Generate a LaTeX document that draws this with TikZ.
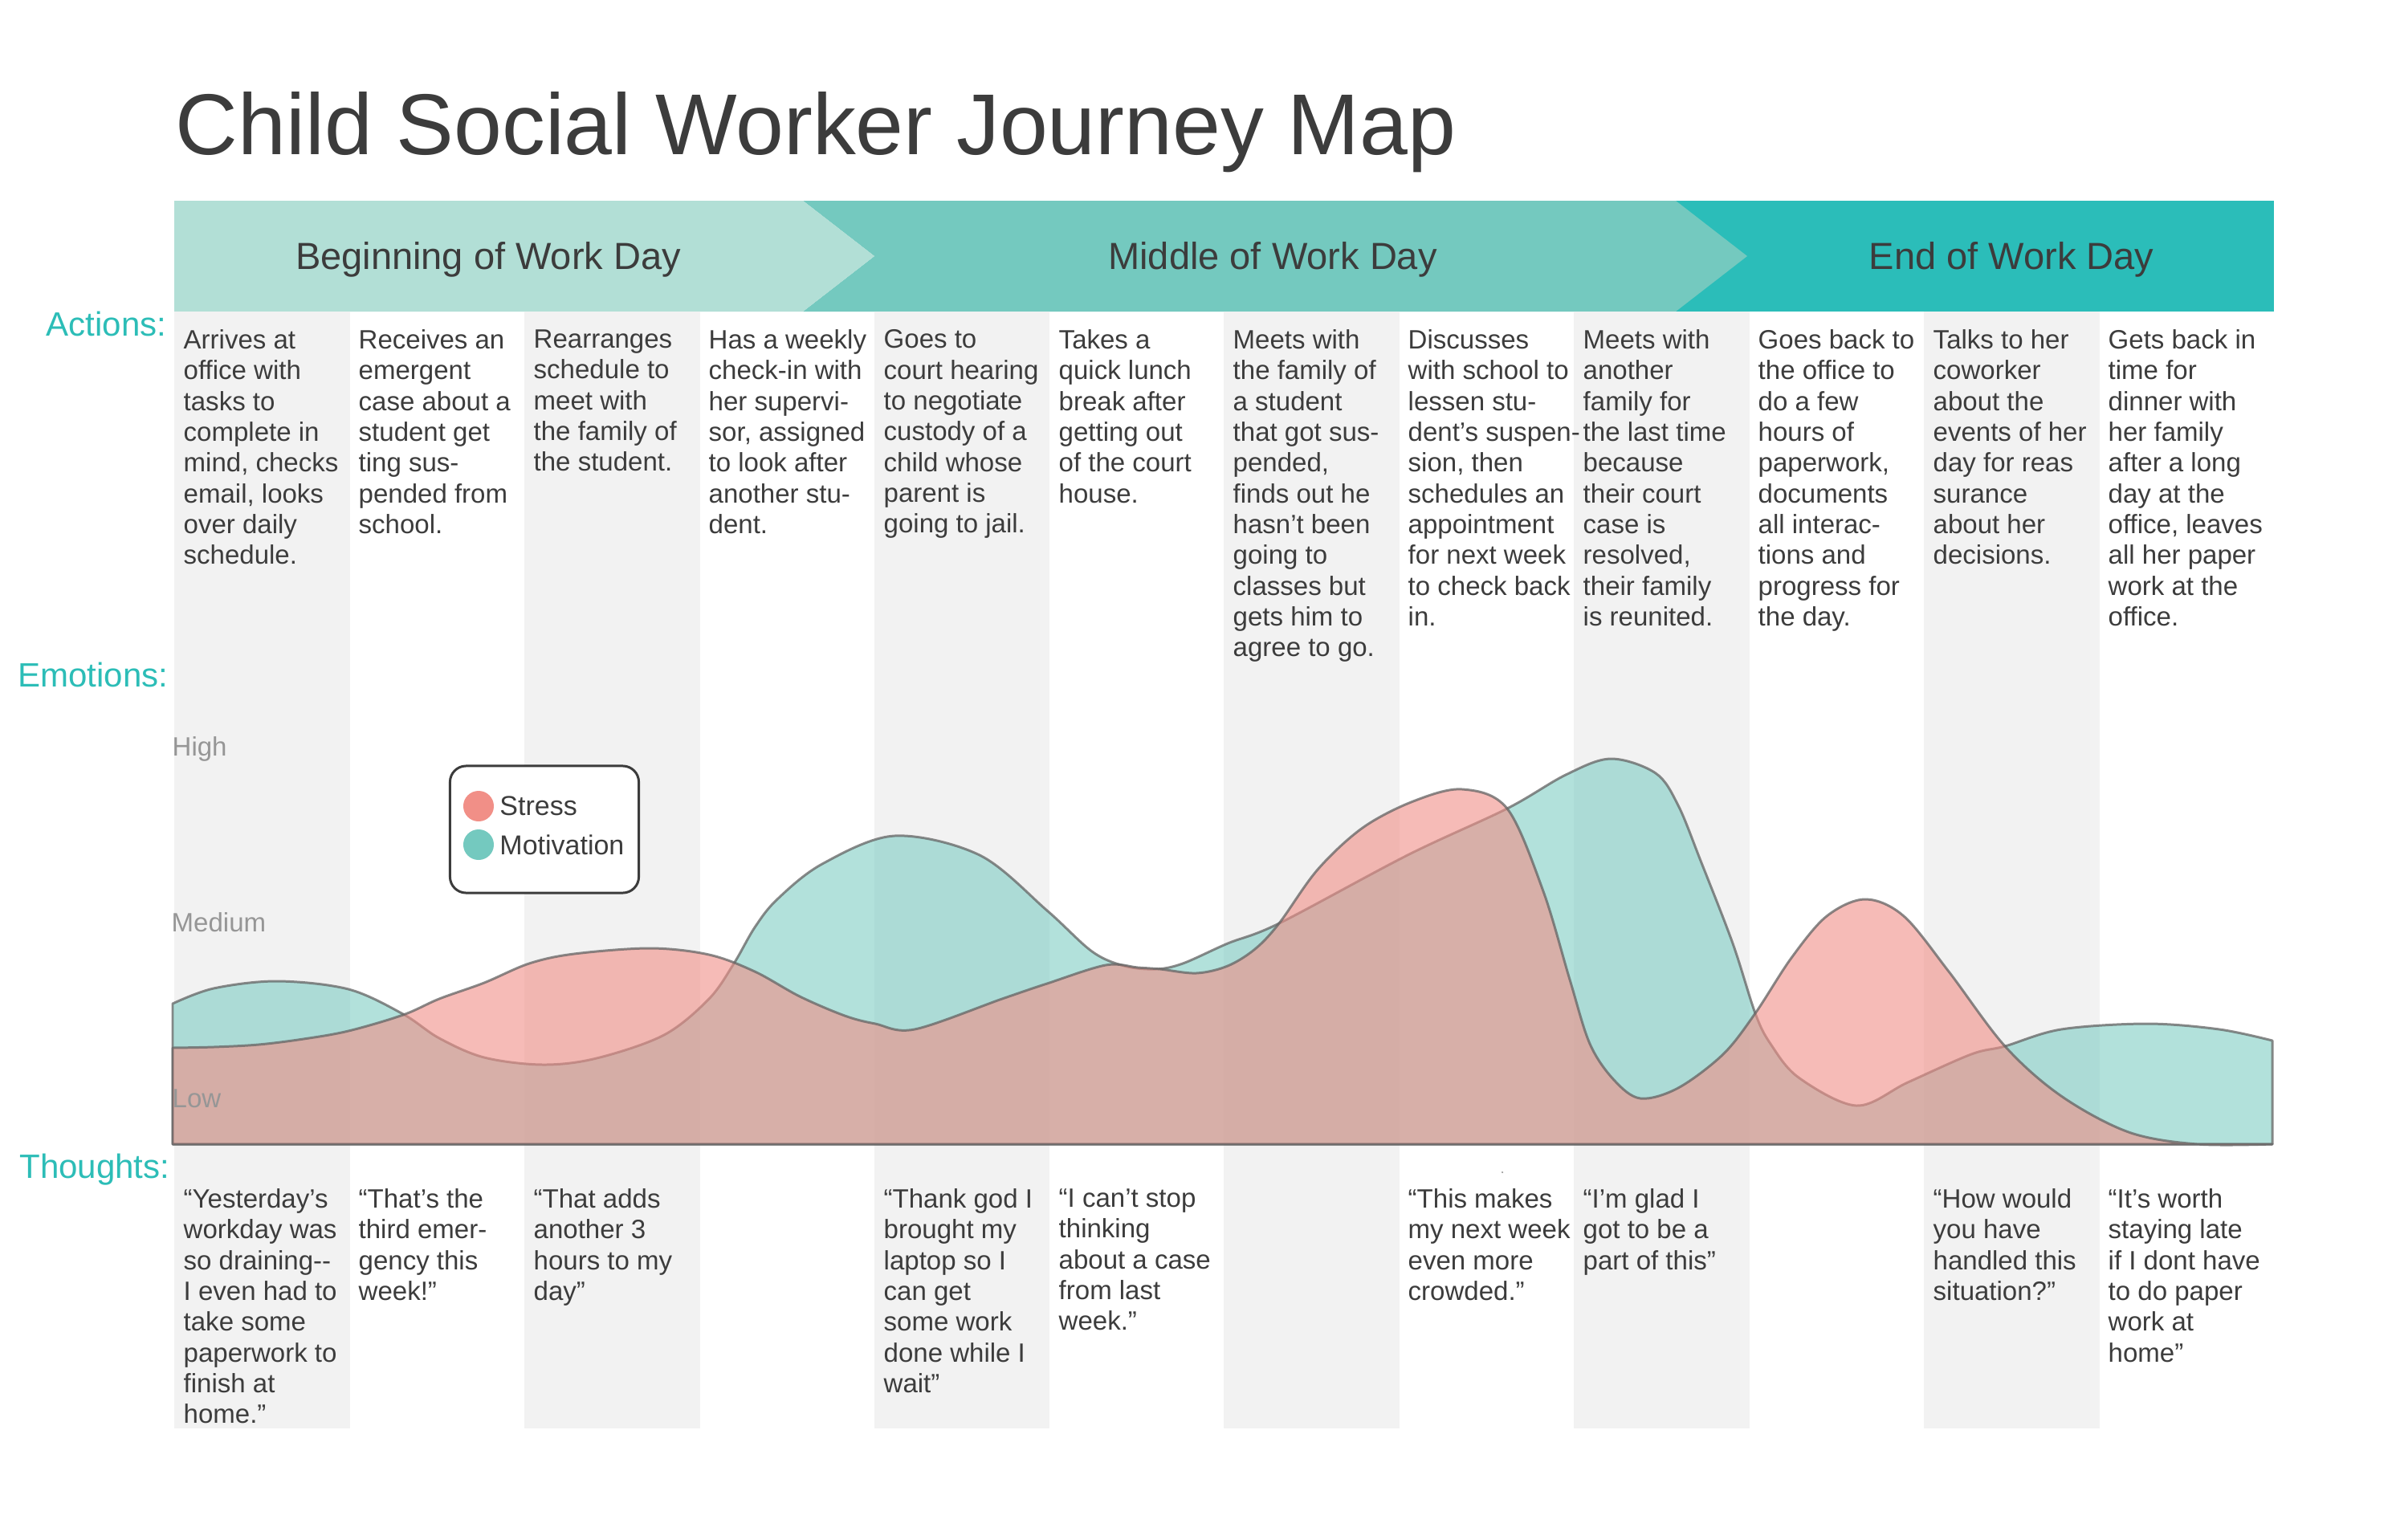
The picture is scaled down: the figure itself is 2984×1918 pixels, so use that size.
\documentclass[tikz,border=0pt]{standalone}
\usepackage{fontspec}
\setmainfont{Liberation Sans}
\usetikzlibrary{positioning}

\definecolor{ink}{RGB}{60,60,60}
\definecolor{tealtxt}{RGB}{44,189,183}
\definecolor{hdrA}{RGB}{178,223,214}
\definecolor{hdrB}{RGB}{116,201,191}
\definecolor{hdrC}{RGB}{43,189,185}
\definecolor{stripe}{RGB}{242,242,242}
\definecolor{axisgray}{RGB}{150,150,150}
\definecolor{stressc}{RGB}{241,143,135}
\definecolor{motivc}{RGB}{116,201,191}
\definecolor{edgegray}{RGB}{100,100,100}

\tikzset{
  act/.style={anchor=north west, inner sep=0pt, align=left, text=ink,
    font=\fontsize{9.39}{10.9}\selectfont, execute at begin node=\strut},
  lbl/.style={anchor=base east, inner sep=0pt, text=tealtxt,
    font=\fontsize{11.95}{14}\selectfont},
  hdr/.style={anchor=base, inner sep=0pt, text=ink,
    font=\fontsize{13.37}{16}\selectfont},
  lvl/.style={anchor=base west, inner sep=0pt, text=axisgray,
    font=\fontsize{9.39}{11}\selectfont},
  key/.style={inner sep=0pt, text=ink, font=\fontsize{9.67}{11}\selectfont},
  dot/.style={circle, inner sep=0pt, minimum size=3.8mm},
  legbox/.style={draw=ink, line width=0.85pt, fill=white, rounded corners=2mm,
    minimum width=2.35cm, minimum height=1.58cm},
  curve/.style={draw=edgegray, draw opacity=.75, line width=0.85pt, line join=round},
}

\begin{document}
\begin{tikzpicture}[x=0.01cm, y=-0.01cm]
  % canvas
  \fill[white] (0,0) rectangle (2984,1918);

  % title
  \node[anchor=base west, inner sep=0pt, text=ink, font=\fontsize{30.6}{36}\selectfont]
    (T) at (218,192) {Child Social Worker Journey Map};

  % header chevrons
  \fill[hdrC] (2087,250) rectangle (2832,388);
  \fill[hdrB] (1000,250) -- (2087,250) -- (2176,319) -- (2087,388) -- (1000,388) -- (1089,319) -- cycle;
  \fill[hdrA] (217,250) -- (1000,250) -- (1089,319) -- (1000,388) -- (217,388) -- cycle;
  \node[hdr] (H1) at (608,335) {Beginning of Work Day};
  \node[hdr] (H2) at (1585,335) {Middle of Work Day};
  \node[hdr] (H3) at (2505,335) {End of Work Day};

  % column stripes
  \fill[stripe] (217,388) rectangle (436,1779);
  \fill[stripe] (653,388) rectangle (872,1779);
  \fill[stripe] (1089,388) rectangle (1307,1779);
  \fill[stripe] (1524,388) rectangle (1743,1779);
  \fill[stripe] (1960,388) rectangle (2179,1779);
  \fill[stripe] (2396,388) rectangle (2615,1779);

  % row labels
  \node[lbl] (L1) at (208,418) {Actions:};
  \node[lbl] (L2) at (210,855) {Emotions:};
  \node[lbl] (L3) at (212,1467) {Thoughts:};

  % actions (first baseline at 436)
  \node[act] (A1) at (228,410) {Arrives at\\office with\\tasks to\\complete in\\mind, checks\\email, looks\\over daily\\schedule.};
  \node[act] (A2) at (446,410) {Receives an\\emergent\\case about a\\student get\\ting sus-\\pended from\\school.};
  \node[act] (A3) at (664,410) {Rearranges\\schedule to\\meet with\\the family of\\the student.};
  \node[act] (A4) at (882,410) {Has a weekly\\check-in with\\her supervi-\\sor, assigned\\to look after\\another stu-\\dent.};
  \node[act] (A5) at (1100,410) {Goes to\\court hearing\\to negotiate\\custody of a\\child whose\\parent is\\going to jail.};
  \node[act] (A6) at (1318,410) {Takes a\\quick lunch\\break after\\getting out\\of the court\\house.};
  \node[act] (A7) at (1535,410) {Meets with\\the family of\\a student\\that got sus-\\pended,\\finds out he\\hasn’t been\\going to\\classes but\\gets him to\\agree to go.};
  \node[act] (A8) at (1753,410) {Discusses\\with school to\\lessen stu-\\dent’s suspen-\\sion, then\\schedules an\\appointment\\for next week\\to check back\\in.};
  \node[act] (A9) at (1971,410) {Meets with\\another\\family for\\the last time\\because\\their court\\case is\\resolved,\\their family\\is reunited.};
  \node[act] (A10) at (2189,410) {Goes back to\\the office to\\do a few\\hours of\\paperwork,\\documents\\all interac-\\tions and\\progress for\\the day.};
  \node[act] (A11) at (2407,410) {Talks to her\\coworker\\about the\\events of her\\day for reas\\surance\\about her\\decisions.};
  \node[act] (A12) at (2625,410) {Gets back in\\time for\\dinner with\\her family\\after a long\\day at the\\office, leaves\\all her paper\\work at the\\office.};

  % motivation area
  \path[curve, fill=motivc, fill opacity=.55] (215,1425) -- plot[smooth, tension=.55] coordinates {
    (215,1250) (266,1231) (345,1222) (434,1232) (502,1263) (547,1293) (603,1317)
    (676,1326) (743,1318) (827,1289) (883,1244) (914,1200) (940,1155) (968,1120)
    (1024,1076) (1114,1041) (1220,1065) (1304,1134) (1360,1185) (1400,1203)
    (1439,1207) (1473,1200) (1529,1175) (1593,1150) (1753,1065) (1877,1007)
    (1950,965) (2006,945) (2062,963) (2090,1003) (2118,1072) (2158,1175)
    (2186,1262) (2205,1300) (2240,1342) (2312,1377) (2376,1348) (2455,1313)
    (2497,1303) (2567,1282) (2674,1275) (2764,1282) (2830,1296)} -- (2830,1425) -- cycle;

  % stress area
  \path[curve, fill=stressc, fill opacity=.6] (215,1425) -- plot[smooth, tension=.55] coordinates {
    (215,1305) (266,1304) (322,1301) (378,1294) (434,1284) (502,1264) (547,1244)
    (603,1224) (659,1200) (715,1188) (810,1181) (883,1189) (940,1210) (996,1241)
    (1052,1265) (1090,1275) (1139,1282) (1248,1244) (1304,1225) (1377,1202)
    (1417,1205) (1445,1207) (1490,1212) (1529,1203) (1563,1182) (1593,1150)
    (1641,1083) (1697,1031) (1760,998) (1821,983) (1877,1007) (1922,1110)
    (1955,1220) (1980,1300) (2010,1345) (2043,1368) (2090,1355) (2146,1313)
    (2186,1262) (2231,1193) (2275,1141) (2323,1120) (2371,1141) (2427,1210)
    (2497,1303) (2567,1365) (2651,1410) (2736,1425) (2830,1425)} -- cycle;

  % emotion levels
  \node[lvl] (E1) at (214,941) {High};
  \node[lvl] (E2) at (213,1160) {Medium};
  \node[lvl] (E3) at (214,1379) {Low};

  % legend
  \node[legbox] (LG) at (678,1033) {};
  \node[dot, fill=stressc] (D1) at (596,1004) {};
  \node[key, right=0.6mm of D1] (K1) {Stress};
  \node[dot, fill=motivc] (D2) at (596,1052) {};
  \node[key, right=0.6mm of D2] (K2) {Motivation};

  % thoughts (first baseline at 1506)
  \node[act] (Q1) at (228,1480) {“Yesterday’s\\workday was\\so draining-{}-\\I even had to\\take some\\paperwork to\\finish at\\home.”};
  \node[act] (Q2) at (446,1480) {“That’s the\\third emer-\\gency this\\week!”};
  \node[act] (Q3) at (664,1480) {“That adds\\another 3\\hours to my\\day”};
  \node[act] (Q5) at (1100,1480) {“Thank god I\\brought my\\laptop so I\\can get\\some work\\done while I\\wait”};
  \node[act] (Q6) at (1318,1480) {“I can’t stop\\thinking\\about a case\\from last\\week.”};
  \node[act] (Q8) at (1753,1480) {“This makes\\my next week\\even more\\crowded.”};
  \node[act] (Q9) at (1971,1480) {“I’m glad I\\got to be a\\part of this”};
  \node[act] (Q11) at (2407,1480) {“How would\\you have\\handled this\\situation?”};
  \node[act] (Q12) at (2625,1480) {“It’s worth\\staying late\\if I dont have\\to do paper\\work at\\home”};
  \fill[axisgray] (1871,1460) circle (0.35pt);
\end{tikzpicture}
\end{document}
